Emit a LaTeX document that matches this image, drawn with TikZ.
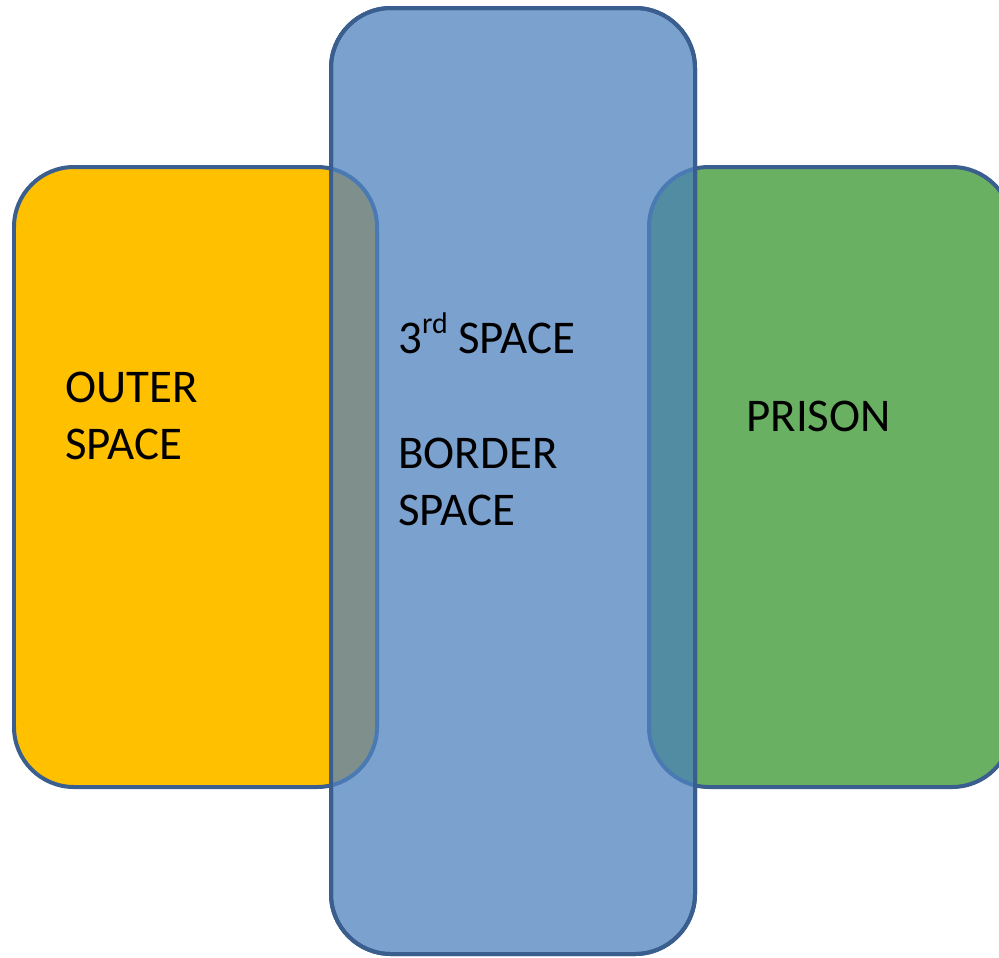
\documentclass[tikz,border=0pt]{standalone}
\usepackage{fontspec}
\setmainfont{Carlito}
\definecolor{orng}{RGB}{255,192,0}
\definecolor{grn}{RGB}{106,176,98}
\definecolor{blu}{RGB}{123,161,206}
\definecolor{edge}{RGB}{58,94,142}
\definecolor{edgel}{RGB}{74,122,180}
\definecolor{ovo}{RGB}{127,144,140}
\definecolor{ovg}{RGB}{82,140,162}
\begin{document}
\begin{tikzpicture}[x=0.02cm,y=-0.02cm]
\tikzset{
  box/.style={rounded corners=1.2cm, line width=0.08cm, draw=edge},
  lbl/.style={anchor=base west, inner sep=0pt, font=\fontsize{26.7pt}{32pt}\selectfont, text=black}
}
\useasboundingbox (0,0) rectangle (999,957);
\path[box, fill=orng] (14,167) rectangle (377,787);
\path[box, fill=grn] (649,167) rectangle (1012,787);
\path[box, fill=blu] (331,8) rectangle (695,954);
\begin{scope}
  \clip[rounded corners=1.2cm] (331,8) rectangle (695,954);
  \path[box, fill=ovo, draw=edgel] (14,167) rectangle (377,787);
  \path[box, fill=ovg, draw=edgel] (649,167) rectangle (1012,787);
\end{scope}
\path[box] (331,8) rectangle (695,954);
\node[lbl] (outer1) at (65,402) {OUTER};
\node[lbl] (outer2) at (65,459) {SPACE};
\node[lbl] (third) at (398,353) {3\raisebox{0.42em}{\fontsize{17pt}{20pt}\selectfont rd} SPACE};
\node[lbl] (border1) at (398,468) {BORDER};
\node[lbl] (border2) at (398,525) {SPACE};
\node[lbl] (prison) at (746,431) {PRISON};
\end{tikzpicture}
\end{document}
